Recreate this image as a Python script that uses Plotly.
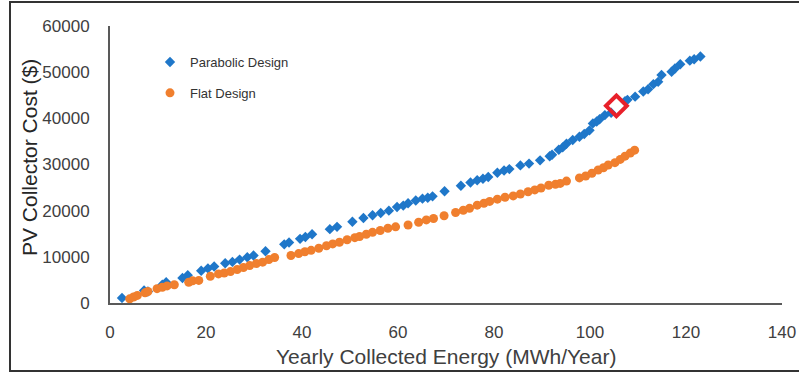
import plotly.graph_objects as go

# Parabolic design (MWh/Year, $)
para_x = [2.5, 7.1, 7.9, 10.9, 11.7, 15.1, 16.2, 19.0, 20.4, 21.7, 24.0, 25.5, 27.0, 28.6, 29.9,
          32.4, 36.3, 37.3, 39.6, 40.7, 42.1, 45.8, 47.3, 50.5, 52.8, 54.7, 56.4, 58.1, 59.8,
          61.1, 62.1, 63.7, 65.1, 66.2, 67.2, 69.7, 73.1, 75.1, 76.5, 77.7, 78.8, 80.7, 82.1,
          83.2, 85.5, 87.3, 89.6, 91.6, 92.1, 93.5, 94.3, 95.1, 96.4, 97.8, 98.8, 99.9, 100.6,
          101.4, 102.0, 103.1, 104.4, 107.3, 107.8, 109.4, 111.1, 112.1, 113.2, 114.2, 114.9,
          117.0, 117.7, 118.8, 120.8, 121.7, 123.0]
para_y = [1100, 2700, 2500, 3950, 4500, 5400, 6000, 7000, 7500, 7900, 8600, 8900, 9400, 9900, 10300,
          11200, 12700, 13100, 13900, 14300, 14900, 16000, 16500, 17600, 18400, 19000, 19500, 20000, 20800,
          21100, 21600, 22200, 22600, 22800, 23100, 24200, 25400, 26100, 26600, 26900, 27300, 28200, 28700,
          29000, 29800, 30200, 30900, 31800, 32100, 33200, 33700, 34500, 35300, 36000, 36600, 37400, 38900,
          39300, 39800, 40700, 41200, 43700, 44000, 44700, 45800, 46300, 47400, 47900, 49400,
          50100, 50800, 51700, 52500, 52800, 53400]

# Flat design (MWh/Year, $)
flat_x = [4.1, 4.9, 5.7, 7.3, 7.9, 9.8, 10.9, 11.9, 13.4, 16.4, 17.2, 18.5, 20.9, 22.6, 23.8,
          25.1, 26.5, 27.8, 29.1, 30.5, 31.8, 33.1, 34.3, 37.7, 39.3, 40.6, 41.9, 43.5, 45.1,
          46.4, 47.8, 49.4, 51.0, 52.0, 53.4, 54.7, 56.3, 57.9, 59.5, 62.1, 64.3, 65.9, 67.4,
          69.6, 72.0, 73.6, 74.9, 76.5, 77.9, 79.1, 80.7, 82.3, 84.0, 85.5, 87.1, 88.5, 89.8,
          91.4, 92.8, 93.8, 95.1, 97.8, 99.1, 100.4, 101.7, 102.8, 103.8, 105.2, 106.3, 107.3,
          108.4, 109.3]
flat_y = [900, 1300, 1650, 2200, 2500, 3100, 3400, 3700, 3950, 4500, 4800, 4900, 5800, 6300, 6500,
          6800, 7250, 7700, 8100, 8550, 8850, 9400, 9850, 10300, 10700, 11100, 11400, 11850, 12400,
          12800, 13150, 13700, 14150, 14400, 14900, 15300, 15700, 16200, 16500, 16900, 17500, 18000, 18300,
          18900, 19600, 20100, 20500, 21200, 21600, 22000, 22500, 22900, 23200, 23600, 24100, 24500, 24900,
          25500, 25700, 25900, 26400, 27100, 27500, 28100, 28800, 29300, 29900, 30400, 31100, 31800,
          32500, 33100]

# Highlighted design point
sel_x = [105.5]
sel_y = [42700]

x_ticks = [0, 20, 40, 60, 80, 100, 120, 140]
y_ticks = [0, 10000, 20000, 30000, 40000, 50000, 60000]
y_ticktext = [str(v) for v in y_ticks]

FONT = "Liberation Sans, Arial, sans-serif"

fig = go.Figure()
fig.add_trace(go.Scatter(x=para_x, y=para_y, mode="markers", name="Parabolic Design",
                         legendgroup="p",
                         marker=dict(symbol="diamond", size=8, color="#1F77C9")))
fig.add_trace(go.Scatter(x=flat_x, y=flat_y, mode="markers", name="Flat Design",
                         legendgroup="f",
                         marker=dict(symbol="circle", size=9, color="#F07F2E")))
fig.add_trace(go.Scatter(x=sel_x, y=sel_y, mode="markers", showlegend=False,
                         marker=dict(symbol="diamond-open", size=16, color="#E8202A",
                                     line=dict(width=4, color="#E8202A"))))

L, T, PW, PH = 110, 26, 672, 277

fig.update_layout(
    width=799, height=374,
    margin=dict(l=L, r=799 - L - PW, t=T, b=374 - T - PH, autoexpand=False),
    paper_bgcolor="white", plot_bgcolor="white",
    font=dict(family=FONT, color="#404040"),
    showlegend=True,
    legend=dict(x=(150 - L) / PW, y=(303 - 47) / PH, xanchor="left", yanchor="top",
                bgcolor="rgba(0,0,0,0)", font=dict(size=13, color="#333333"),
                traceorder="grouped", tracegroupgap=11, itemwidth=30),
    xaxis=dict(range=[0, 140], tickvals=x_ticks, showgrid=False, zeroline=False,
               showline=True, linecolor="#595959", linewidth=2, ticks="",
               automargin=False, ticklabelstandoff=13,
               tickfont=dict(size=17, color="#404040")),
    yaxis=dict(range=[0, 60000], tickvals=y_ticks, ticktext=y_ticktext,
               showgrid=False, zeroline=False,
               showline=True, linecolor="#595959", linewidth=2, ticks="",
               automargin=False, ticklabelstandoff=15,
               tickfont=dict(size=17, color="#404040")),
    annotations=[
        dict(text="Yearly Collected Energy (MWh/Year)", xref="paper", yref="paper",
             x=(446 - L) / PW, y=(303 - 356) / PH, showarrow=False,
             xanchor="center", yanchor="middle",
             font=dict(size=21, color="#404040")),
        dict(text="PV Collector Cost ($)", xref="paper", yref="paper",
             x=(29 - L) / PW, y=(303 - 158) / PH, showarrow=False, textangle=-90,
             xanchor="center", yanchor="middle",
             font=dict(size=21, color="#262626")),
    ],
    shapes=[dict(type="rect", xref="paper", yref="paper",
                 x0=(10 - L) / PW, x1=(803 - L) / PW, y0=(303 - 371) / PH, y1=(303 - 2) / PH,
                 line=dict(color="#333333", width=2), fillcolor="rgba(0,0,0,0)")],
)

fig.write_html("out.html",
               config={"displayModeBar": False},
               post_script="document.body.style.margin='0';document.body.style.overflow='hidden';")
